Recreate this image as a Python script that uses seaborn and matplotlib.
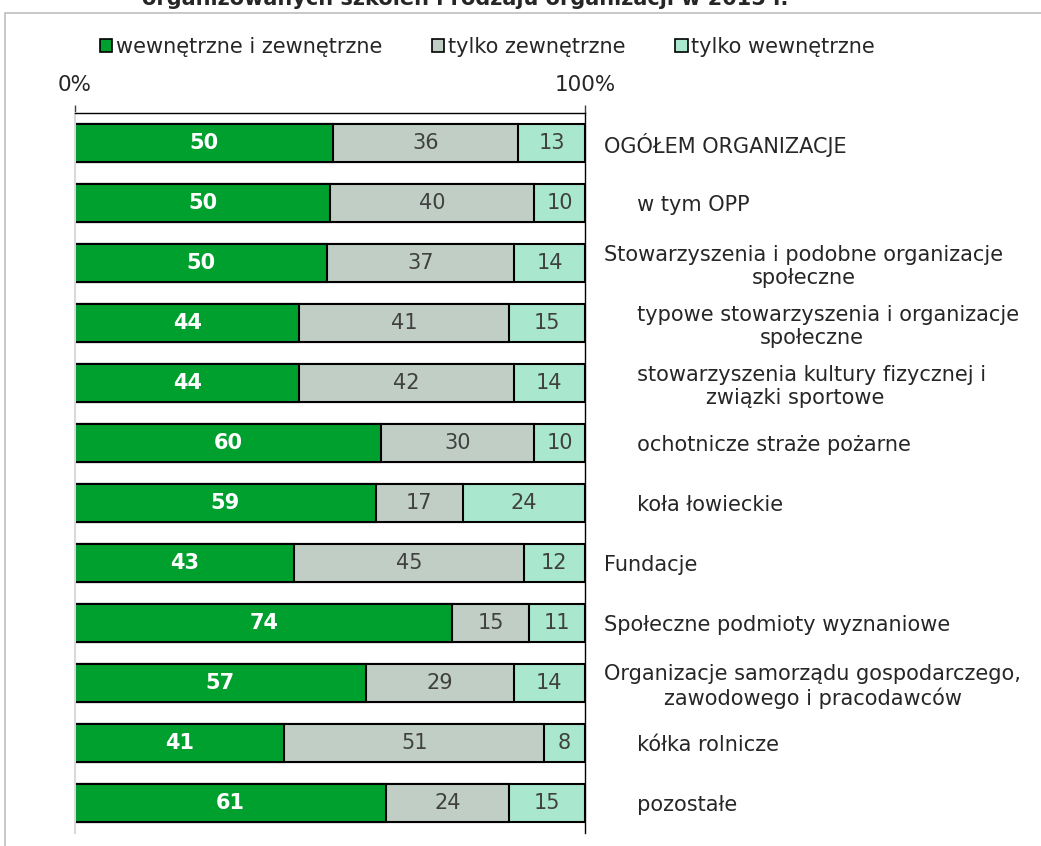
import numpy as np
import pandas as pd
import matplotlib
matplotlib.use("Agg")
import matplotlib.pyplot as plt
import seaborn as sns
from matplotlib.patches import Patch, Rectangle

categories = [
    "OGÓŁEM ORGANIZACJE",
    "     w tym OPP",
    "Stowarzyszenia i podobne organizacje\nspołeczne",
    "     typowe stowarzyszenia i organizacje\nspołeczne",
    "     stowarzyszenia kultury fizycznej i\nzwiązki sportowe",
    "     ochotnicze straże pożarne",
    "     koła łowieckie",
    "Fundacje",
    "Społeczne podmioty wyznaniowe",
    "Organizacje samorządu gospodarczego,\nzawodowego i pracodawców",
    "     kółka rolnicze",
    "     pozostałe",
]
both = [50, 50, 50, 44, 44, 60, 59, 43, 74, 57, 41, 61]
external = [36, 40, 37, 41, 42, 30, 17, 45, 15, 29, 51, 24]
internal = [13, 10, 14, 15, 14, 10, 24, 12, 11, 14, 8, 15]
series = ["wewnętrzne i zewnętrzne", "tylko zewnętrzne", "tylko wewnętrzne"]
title = "organizowanych szkoleń i rodzaju organizacji w 2015 r."

colors = ["#00A02E", "#C1CEC6", "#A9E8CF"]
text_colors = ["white", "#404040", "#404040"]
FS = 15

sns.set_style("white")
plt.rcParams["font.family"] = ["DejaVu Sans"]

df = pd.DataFrame({"cat": categories, "both": both, "ext": external, "int": internal})
tot = df[["both", "ext", "int"]].sum(axis=1)
shares = df[["both", "ext", "int"]].div(tot, axis=0) * 100
cum = shares.cumsum(axis=1)

fig = plt.figure(figsize=(10.41, 8.46), dpi=100)
ax = fig.add_axes([75 / 1041, 13 / 846, 510 / 1041, 720 / 846])

# stacked bars drawn back to front as cumulative totals
for col, c in zip(["int", "ext", "both"], colors[::-1]):
    sns.barplot(x=cum[col], y=df["cat"], orient="h", color=c, width=0.64,
                edgecolor="black", linewidth=1.5, saturation=1, ax=ax)

for i in range(len(df)):
    left = 0
    for j, col in enumerate(["both", "ext", "int"]):
        w = shares.loc[i, col]
        ax.text(left + w / 2, i, str(df.loc[i, col]), ha="center", va="center",
                fontsize=FS, color=text_colors[j],
                fontweight="bold" if j == 0 else "normal")
        left += w

ax.set_xlim(0, 100)
ax.set_ylim(11.5, -0.5)
ax.set_xlabel("")
ax.set_ylabel("")
ax.xaxis.tick_top()
ax.set_xticks([0, 100])
ax.set_xticklabels(["0%", "100%"], fontsize=FS + 0.5)
ax.tick_params(axis="x", direction="out", length=6, width=1, color="#404040", pad=7)
ax.yaxis.tick_right()
ax.tick_params(axis="y", length=0, pad=14)
ax.set_yticks(range(len(categories)))
ax.set_yticklabels(categories, fontsize=FS, ha="left", multialignment="center")

ax.spines["bottom"].set_visible(False)
ax.spines["top"].set_color("black")
ax.spines["top"].set_linewidth(1)
ax.spines["right"].set_color("black")
ax.spines["right"].set_linewidth(1)
ax.spines["left"].set_color("#d9d9d9")
ax.spines["left"].set_linewidth(1.5)

handles = [Patch(facecolor=c, edgecolor="black", linewidth=1.2) for c in colors]
fig.legend(handles, series, loc="center", bbox_to_anchor=(0.468, 1 - 47 / 846), ncol=3,
           frameon=False, fontsize=FS, handlelength=0.6, handleheight=0.6,
           handletextpad=0.15, columnspacing=2.4)

fig.add_artist(Rectangle((5 / 1041, -0.02), 1.0, 1 - 13 / 846 + 0.02,
                         transform=fig.transFigure, fill=False,
                         edgecolor="#bfbfbf", linewidth=1.2))
# title is cut off at the top edge in the original
fig.text(0.447, 1 - 5 / 846, title, ha="center", va="baseline",
         fontsize=FS, fontweight="bold")

fig.savefig("out.png", dpi=100)
